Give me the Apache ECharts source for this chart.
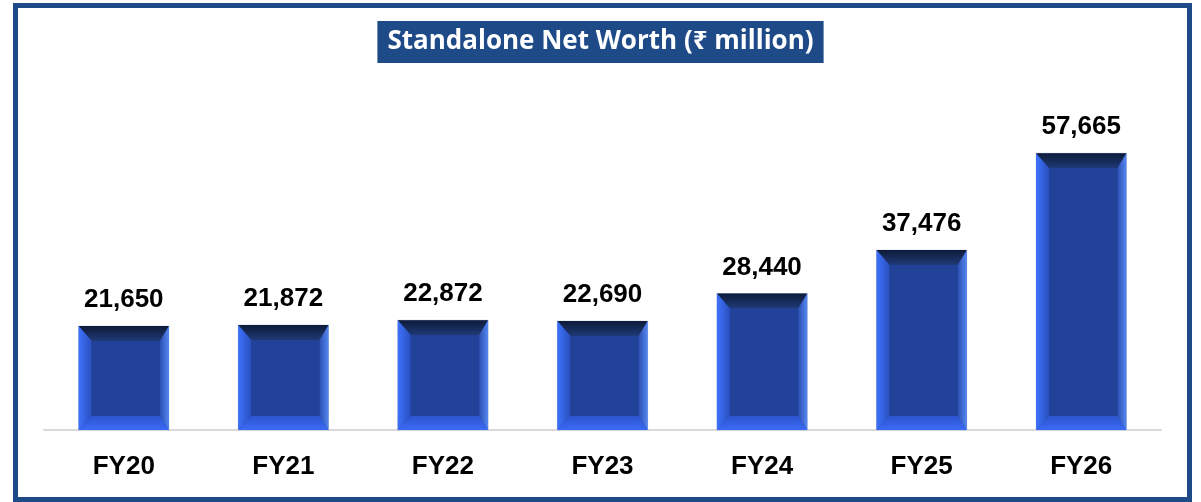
<!DOCTYPE html>
<html>
<head>
<meta charset="utf-8">
<script src="https://cdn.jsdelivr.net/npm/echarts@6/dist/echarts.min.js"></script>
<style>
  html, body { margin: 0; padding: 0; background: #fff; }
  #main { width: 1201px; height: 502px; }
</style>
</head>
<body>
<div id="main"></div>
<script>
var years = ['FY20', 'FY21', 'FY22', 'FY23', 'FY24', 'FY25', 'FY26'];
var netWorth = [21650, 21872, 22872, 22690, 28440, 37476, 57665];

var chart = echarts.init(document.getElementById('main'));

function grad(x2, y2, c1, c2) {
	return { type: 'linear', x: 0, y: 0, x2: x2, y2: y2, colorStops: [{ offset: 0, color: c1 }, { offset: 1, color: c2 }] };
}

// bevelled bar, like the office "cool slant" shape
function renderBar(params, api) {
	var idx = api.value(0);
	var top = api.coord([idx, api.value(1)]);
	var base = api.coord([idx, 0]);
	var w = api.size([1, 0])[0] * 0.566;
	var x0 = top[0] - w / 2, x1 = top[0] + w / 2;
	var y0 = top[1], y1 = base[1];
	var bl = 13, br = 9, bt = 15, bb = 14;
	var ix0 = x0 + bl, ix1 = x1 - br, iy0 = y0 + bt, iy1 = y1 - bb;
	return {
		type: 'group',
		children: [
			{ type: 'rect', shape: { x: x0, y: y0, width: w, height: y1 - y0 }, style: { fill: '#23439c', stroke: '#b9c4de', lineWidth: 0.6 } },
			{ type: 'polygon', shape: { points: [[x0, y0], [x1, y0], [ix1, iy0], [ix0, iy0]] }, style: { fill: grad(0, 1, '#0e1b38', '#1f3a78') } },
			{ type: 'polygon', shape: { points: [[x0, y0], [ix0, iy0], [ix0, iy1], [x0, y1]] }, style: { fill: grad(1, 0, '#3d72fb', '#2a4fbf') } },
			{ type: 'polygon', shape: { points: [[x1, y0], [x1, y1], [ix1, iy1], [ix1, iy0]] }, style: { fill: grad(1, 0, '#2c4fb2', '#5487f0') } },
			{ type: 'polygon', shape: { points: [[x0, y1], [ix0, iy1], [ix1, iy1], [x1, y1]] }, style: { fill: grad(0, 1, '#2c56d0', '#3a6bf3') } },
			{ type: 'rect', shape: { x: ix0, y: iy0, width: ix1 - ix0, height: iy1 - iy0 }, style: { fill: '#22429a' } },
			{
				type: 'text',
				style: {
					text: api.value(1).toLocaleString('en-US'),
					x: top[0], y: y0 - 13,
					align: 'center', verticalAlign: 'bottom',
					font: 'bold 26px "Liberation Sans", Arial, sans-serif',
					fill: '#000'
				}
			}
		]
	};
}

var option = {
	animation: false,
	backgroundColor: '#fff',
	title: {
		text: 'Standalone Net Worth (\u20b9 million)',
		left: 'center',
		top: 21,
		backgroundColor: '#1e4a88',
		padding: [8, 10, 8, 10],
		textStyle: { color: '#fff', fontSize: 26, lineHeight: 26, fontWeight: 'bold', fontFamily: '"Open Sans", "Noto Sans", "DejaVu Sans", sans-serif' }
	},
	graphic: [{
		type: 'rect',
		shape: { x: 15.5, y: 5.5, width: 1174, height: 494 },
		style: { fill: 'none', stroke: '#1e4a88', lineWidth: 5 },
		z: 10
	}],
	grid: { left: 44, right: 40, top: 142, bottom: 72 },
	xAxis: {
		type: 'category',
		data: years,
		axisLine: { lineStyle: { color: '#d9d9d9', width: 2 } },
		axisTick: { show: false },
		axisLabel: { margin: 24, color: '#000', fontSize: 26, fontWeight: 'bold', fontFamily: '"Liberation Sans", Arial, sans-serif' }
	},
	yAxis: {
		type: 'value',
		min: 0,
		max: 60000,
		show: false,
		splitLine: { show: false }
	},
	series: [{
		type: 'custom',
		renderItem: renderBar,
		encode: { x: 0, y: 1 },
		data: netWorth.map(function (v, i) { return [i, v]; })
	}]
};

chart.setOption(option);
</script>
</body>
</html>
